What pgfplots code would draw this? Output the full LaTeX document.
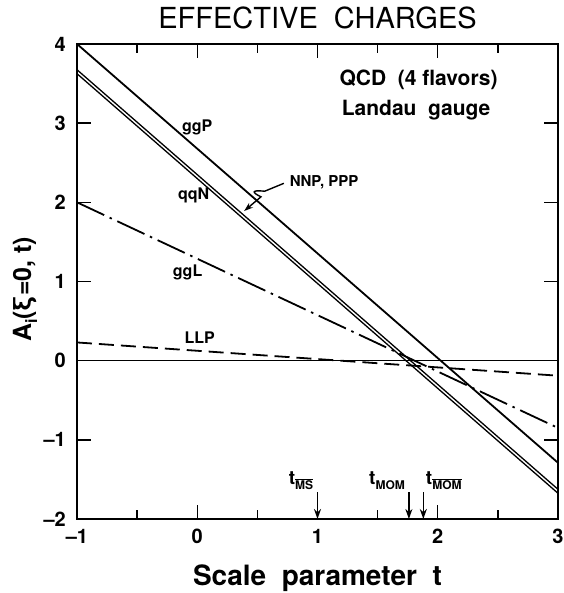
\documentclass[border=0pt]{standalone}
\usepackage{fontspec}
\setmainfont{TeX Gyre Heros}
\usepackage{pgfplots}
\pgfplotsset{compat=1.18}
\usetikzlibrary{arrows.meta}
\begin{document}
\begin{tikzpicture}
\begin{axis}[
  name=ax,
  scale only axis, width=481pt, height=475pt,
  xmin=-1, xmax=3, ymin=-2, ymax=4,
  clip=false,
  xtick={-1,0,1,2,3}, xticklabels={--1,0,1,2,3},
  minor xtick={-0.5,0.5,1.5,2.5},
  ytick={-2,-1,0,1,2,3,4}, yticklabels={--2,--1,0,1,2,3,4},
  tick align=inside,
  major tick length=14pt, minor tick length=9pt,
  tick style={line width=1.4pt, black},
  axis line style={line width=1.8pt},
  xticklabel style={font=\fontsize{20}{20}\selectfont\bfseries, anchor=north, inner sep=0pt, yshift=-10pt},
  yticklabel style={font=\fontsize{20}{20}\selectfont\bfseries, anchor=east, inner sep=0pt, xshift=-11pt},
]
% ggP
\addplot[line width=1.8pt] coordinates {(-1,4) (3,-1.29)};
% qqN and NNP, PPP (double line)
\addplot[line width=1.3pt] coordinates {(-1,3.675) (3,-1.625)};
\addplot[line width=1.3pt] coordinates {(-1,3.625) (3,-1.675)};
% ggL
\addplot[line width=1.8pt, dash pattern=on 30pt off 6pt on 2.5pt off 6pt] coordinates {(-1,2.0) (3,-0.85)};
% LLP
\addplot[line width=1.8pt, dash pattern=on 15pt off 7pt] coordinates {(-1,0.23) (3,-0.19)};
% zero line
\addplot[line width=1.5pt] coordinates {(-1,0) (3,0)};
% scale arrows
\addplot[line width=1.6pt, -{Stealth[length=10pt,width=7pt]}] coordinates {(1,-1.66) (1,-2)};
\addplot[line width=1.6pt, -{Stealth[length=10pt,width=7pt]}] coordinates {(1.76,-1.66) (1.76,-2)};
\addplot[line width=1.6pt, -{Stealth[length=10pt,width=7pt]}] coordinates {(1.88,-1.66) (1.88,-2)};
% squiggle arrow for NNP, PPP
\draw[line width=1.4pt, -{Stealth[length=9pt,width=6pt]}] (axis cs:0.72,2.24) -- (axis cs:0.56,2.14) .. controls (axis cs:0.44,2.16) and (axis cs:0.46,2.12) .. (axis cs:0.53,2.07) -- (axis cs:0.39,1.89);
% curve labels
\node[font=\fontsize{16}{16}\selectfont\bfseries] at (axis cs:0.0,2.95) {ggP};
\node[font=\fontsize{16}{16}\selectfont\bfseries] at (axis cs:-0.03,2.09) {qqN};
\node[font=\fontsize{15}{15}\selectfont\bfseries, anchor=west] at (axis cs:0.74,2.25) {NNP, PPP};
\node[font=\fontsize{16}{16}\selectfont\bfseries] at (axis cs:-0.08,1.12) {ggL};
\node[font=\fontsize{16}{16}\selectfont\bfseries] at (axis cs:0.02,0.29) {LLP};
\node[font=\fontsize{21}{21}\selectfont\bfseries] at (axis cs:1.84,3.55) {QCD\ \ (4 flavors)};
\node[font=\fontsize{21}{21}\selectfont\bfseries] at (axis cs:1.82,3.17) {Landau\ \ gauge};
% scale labels
\node[anchor=base east, inner sep=0pt, font=\fontsize{19}{19}\selectfont\bfseries] at (axis cs:0.965,-1.57) {t\raisebox{-5pt}{$\overline{\hbox{\fontsize{12}{12}\selectfont\bfseries MS}}$}};
\node[anchor=base east, inner sep=0pt, font=\fontsize{19}{19}\selectfont\bfseries] at (axis cs:1.728,-1.57) {t\raisebox{-5pt}{\fontsize{12}{12}\selectfont\bfseries MOM}};
\node[anchor=base west, inner sep=0pt, font=\fontsize{19}{19}\selectfont\bfseries] at (axis cs:1.90,-1.57) {t\raisebox{-5pt}{$\overline{\hbox{\fontsize{12}{12}\selectfont\bfseries MOM}}$}};
% title, axis labels
\node[anchor=base, inner sep=0pt, font=\fontsize{29}{29}\selectfont] at ([yshift=15pt]rel axis cs:0.5,1) {EFFECTIVE\ \ CHARGES};
\node[anchor=base, inner sep=0pt, font=\fontsize{28}{28}\selectfont\bfseries] at ([yshift=-66pt]rel axis cs:0.5,0) {Scale\ \ parameter\ \ t};
\node[rotate=90, inner sep=0pt, font=\fontsize{25}{25}\selectfont\bfseries] at ([xshift=-52pt]axis cs:-1,0.9) {A\raisebox{-6pt}{\fontsize{16}{16}\selectfont i}(ξ=0, t)};
\end{axis}
\pgfresetboundingbox
\path[use as bounding box] ([xshift=-77pt,yshift=-74pt]ax.south west) rectangle ([xshift=5pt,yshift=44pt]ax.north east);
\end{tikzpicture}
\end{document}
